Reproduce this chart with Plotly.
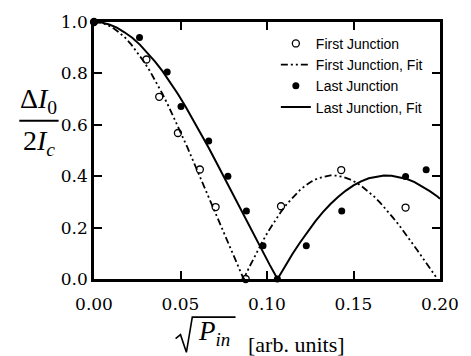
import plotly.graph_objects as go

# ---------------- data ----------------
first_x = [0.0, 0.0303, 0.0377, 0.0485, 0.0612, 0.0703, 0.0877, 0.1081, 0.1429, 0.1801]
first_y = [1.0, 0.854, 0.709, 0.568, 0.426, 0.280, 0.0, 0.283, 0.424, 0.278]

last_x = [0.0, 0.0263, 0.0423, 0.0503, 0.0663, 0.0774, 0.0881, 0.0977, 0.1060, 0.1227, 0.1432, 0.1801, 0.1920]
last_y = [1.0, 0.940, 0.805, 0.671, 0.537, 0.400, 0.265, 0.129, 0.0, 0.129, 0.265, 0.399, 0.425]

first_fit_x = [0.0, 0.0036, 0.0072, 0.0108, 0.0144, 0.0180, 0.0216, 0.0252, 0.0288, 0.0324,
               0.0360, 0.0396, 0.0432, 0.0468, 0.0504, 0.0540, 0.0576, 0.0612, 0.0647, 0.0683,
               0.0719, 0.0755, 0.0791, 0.0827, 0.0865, 0.0899, 0.0935, 0.0971, 0.1007, 0.1043,
               0.1079, 0.1115, 0.1151, 0.1187, 0.1223, 0.1259, 0.1295, 0.1331, 0.1367, 0.1403,
               0.1439, 0.1475, 0.1511, 0.1547, 0.1583, 0.1619, 0.1655, 0.1691, 0.1727, 0.1763,
               0.1799, 0.1835, 0.1871, 0.1906, 0.1942, 0.1978]
first_fit_y = [1.000, 0.998, 0.990, 0.978, 0.960, 0.939, 0.912, 0.881, 0.846, 0.808,
               0.765, 0.720, 0.671, 0.620, 0.567, 0.512, 0.455, 0.398, 0.340, 0.282,
               0.224, 0.167, 0.110, 0.056, 0.000, 0.048, 0.097, 0.142, 0.185, 0.224,
               0.260, 0.292, 0.320, 0.344, 0.364, 0.380, 0.392, 0.399, 0.403, 0.402,
               0.397, 0.389, 0.377, 0.361, 0.342, 0.321, 0.296, 0.269, 0.240, 0.210,
               0.178, 0.144, 0.110, 0.076, 0.041, 0.007]

last_fit_x = [0.0, 0.0044, 0.0088, 0.0132, 0.0176, 0.0221, 0.0265, 0.0309, 0.0353, 0.0397,
              0.0441, 0.0485, 0.0529, 0.0573, 0.0618, 0.0662, 0.0706, 0.0750, 0.0794, 0.0838,
              0.0882, 0.0926, 0.0970, 0.1015, 0.1061, 0.1103, 0.1147, 0.1191, 0.1235, 0.1279,
              0.1323, 0.1367, 0.1412, 0.1456, 0.1500, 0.1544, 0.1588, 0.1632, 0.1676, 0.1720,
              0.1764, 0.1809, 0.1853, 0.1897, 0.1941, 0.1985, 0.2000]
last_fit_y = [1.000, 0.998, 0.990, 0.978, 0.960, 0.939, 0.912, 0.881, 0.846, 0.808,
              0.765, 0.720, 0.671, 0.620, 0.567, 0.512, 0.455, 0.398, 0.340, 0.282,
              0.224, 0.167, 0.110, 0.056, 0.000, 0.048, 0.097, 0.142, 0.185, 0.224,
              0.260, 0.292, 0.320, 0.344, 0.364, 0.380, 0.392, 0.399, 0.403, 0.402,
              0.397, 0.389, 0.377, 0.361, 0.342, 0.321, 0.312]

x_ticks = [0.0, 0.05, 0.10, 0.15, 0.20]
x_tick_labels = ["0.00", "0.05", "0.10", "0.15", "0.20"]
y_ticks = [0.0, 0.2, 0.4, 0.6, 0.8, 1.0]
y_tick_labels = ["0.0", "0.2", "0.4", "0.6", "0.8", "1.0"]

# ---------------- figure ----------------
W, H = 471, 356
L, R, T, B = 94, 25, 16, 77
PW, PH = W - L - R, H - T - B


def px(xp):
    return (xp - L) / PW


def py(yp):
    return (H - B - yp) / PH


fig = go.Figure()

fig.add_trace(go.Scatter(
    x=first_x, y=first_y, mode="markers", name="First Junction",
    marker=dict(symbol="circle", size=7, color="white", line=dict(color="black", width=1.3)),
    cliponaxis=False))
fig.add_trace(go.Scatter(
    x=first_fit_x, y=first_fit_y, mode="lines", name="First Junction, Fit",
    line=dict(color="black", width=1.8, dash="7px,3px,2px,3px,2px,3px")))
fig.add_trace(go.Scatter(
    x=last_x, y=last_y, mode="markers", name="Last Junction",
    marker=dict(symbol="circle", size=7, color="black"),
    cliponaxis=False))
fig.add_trace(go.Scatter(
    x=last_fit_x, y=last_fit_y, mode="lines", name="Last Junction, Fit",
    line=dict(color="black", width=2)))

tick_font = dict(family="DejaVu Serif", size=17, color="black")

fig.update_xaxes(
    range=[0, 0.2], tickvals=x_ticks, ticktext=x_tick_labels,
    showgrid=False, zeroline=False, showline=True, linewidth=2.5, linecolor="black",
    mirror="ticks", ticks="inside", ticklen=8, tickwidth=2, tickcolor="black",
    tickfont=tick_font, ticklabelstandoff=8)
fig.update_yaxes(
    range=[0, 1.0], tickvals=y_ticks, ticktext=y_tick_labels,
    showgrid=False, zeroline=False, showline=True, linewidth=2.5, linecolor="black",
    mirror="ticks", ticks="inside", ticklen=8, tickwidth=2, tickcolor="black",
    tickfont=tick_font, ticklabelstandoff=0)

serif = "Liberation Serif"

annotations = [
    # y-axis title as a fraction
    dict(x=px(38), y=py(116), xref="paper", yref="paper", xanchor="center", yanchor="bottom",
         text="\u0394<i>I</i><sub>0</sub>", showarrow=False,
         font=dict(family=serif, size=28, color="black")),
    dict(x=px(38), y=py(119), xref="paper", yref="paper", xanchor="center", yanchor="top",
         text="2<i>I</i><sub><i>c</i></sub>", showarrow=False,
         font=dict(family=serif, size=28, color="black")),
    # x-axis title
    dict(x=px(216), y=py(334), xref="paper", yref="paper", xanchor="center", yanchor="middle",
         text="<i>P</i><sub><i>in</i></sub>", showarrow=False,
         font=dict(family=serif, size=27, color="black")),
    dict(x=px(300), y=py(346), xref="paper", yref="paper", xanchor="center", yanchor="middle",
         text="[arb. units]", showarrow=False,
         font=dict(family=serif, size=22, color="black")),
]

shapes = [
    # fraction bar
    dict(type="line", xref="paper", yref="paper", x0=px(18), x1=px(58), y0=py(117), y1=py(117),
         line=dict(color="black", width=2)),
    # radical sign
    dict(type="path", xref="paper", yref="paper",
         path=(f"M {px(177)},{py(340)} L {px(182)},{py(336)} L {px(188)},{py(354)} "
               f"L {px(194)},{py(318)} L {px(238)},{py(318)}"),
         line=dict(color="black", width=1.6)),
]

fig.update_layout(
    width=W, height=H,
    margin=dict(l=L, r=R, t=T, b=B, pad=0),
    paper_bgcolor="white", plot_bgcolor="white",
    showlegend=True,
    legend=dict(x=px(279), y=py(22), xanchor="left", yanchor="top",
                bgcolor="rgba(0,0,0,0)", borderwidth=0, tracegroupgap=0,
                font=dict(family="Liberation Sans", size=14, color="black")),
    annotations=annotations, shapes=shapes,
)

fig.write_html("out.html")
